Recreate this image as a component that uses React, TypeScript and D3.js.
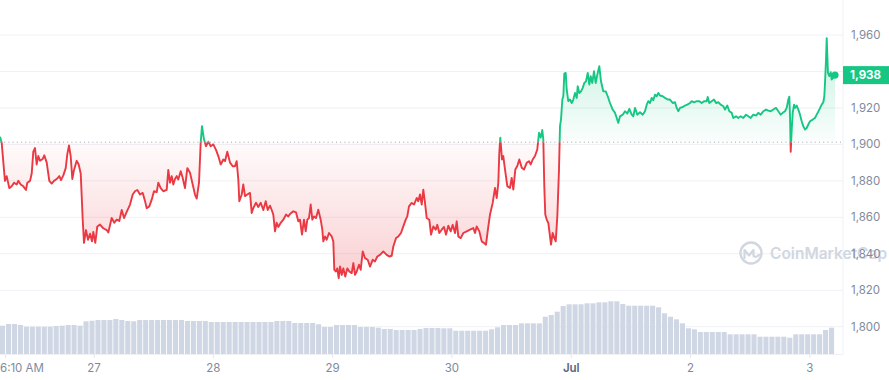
import React from "react";
import * as d3 from "d3";

// ---------- data ----------
const START = new Date(2023, 5, 26, 5, 4); // first sample
const SPAN_HOURS = 168;

// [hours since START, ETH price in USD]
const pricePoints: [number, number][] = [
  [0, 1904.2], [0.34, 1901], [0.8, 1886], [1.0, 1880], [1.35, 1882.6], [1.87, 1876], [2.35, 1877], [2.82, 1879],
  [3.36, 1878], [3.68, 1880], [4.16, 1878], [4.69, 1877], [5.23, 1875], [5.49, 1879], [6.04, 1880], [6.38, 1884],
  [6.7, 1896], [7.04, 1898], [7.38, 1889], [7.71, 1893.6], [8.05, 1891], [8.59, 1892], [8.91, 1894], [9.4, 1890],
  [9.92, 1880], [10.4, 1878.5], [10.86, 1880], [11.41, 1881], [11.93, 1882.6], [12.27, 1880.4], [12.74, 1883],
  [13.22, 1887], [13.54, 1894.5], [13.88, 1899.4], [14.22, 1893.6], [14.55, 1881], [14.89, 1886], [15.43, 1891],
  [15.83, 1889], [16.24, 1884], [16.44, 1871.6], [16.64, 1858.7], [16.9, 1846], [17.3, 1853], [17.71, 1847.7],
  [18.11, 1851], [18.51, 1846.8], [18.77, 1852], [19.17, 1846], [19.58, 1855], [20.12, 1856], [20.78, 1854],
  [21.47, 1853], [21.79, 1851.7], [22.47, 1859.6], [23.0, 1857], [23.48, 1858.7], [24.0, 1858], [24.49, 1864],
  [24.95, 1859.6], [25.49, 1863], [26.16, 1867], [26.7, 1872.5], [27.16, 1874.3], [27.63, 1875], [28.17, 1872.5],
  [28.71, 1873.4], [29.17, 1869], [29.52, 1865], [30.04, 1866], [30.52, 1869.7], [30.98, 1874.3], [31.53, 1873.8],
  [31.85, 1879], [32.33, 1876], [32.86, 1874.3], [33.54, 1875], [33.86, 1886], [34.2, 1879], [34.55, 1882.6],
  [34.87, 1878], [35.21, 1881], [35.55, 1882.6], [35.87, 1880.7], [36.36, 1885.3], [36.76, 1881.6], [37.22, 1876],
  [37.69, 1887], [38.23, 1884.4], [38.77, 1878], [39.23, 1872.5], [39.58, 1870.3], [40.04, 1879], [40.38, 1901],
  [40.64, 1910], [41.04, 1902.8], [41.45, 1899], [41.91, 1901.5], [42.39, 1899], [42.92, 1900], [43.46, 1897],
  [43.92, 1893.6], [44.41, 1889], [44.93, 1891.7], [45.27, 1890.8], [45.73, 1896], [46.28, 1890], [46.82, 1888],
  [47.28, 1888], [47.62, 1890.8], [47.95, 1880.7], [48.15, 1868.8], [48.63, 1872.5], [48.95, 1878], [49.29, 1871.6],
  [49.76, 1872.5], [50.3, 1873.4], [50.64, 1862.4], [50.96, 1865], [51.51, 1868], [51.97, 1865.7], [52.45, 1868],
  [52.98, 1864], [53.46, 1868.8], [53.86, 1864], [54.32, 1866.4], [54.67, 1864], [54.99, 1861.5], [55.33, 1852.3],
  [55.67, 1857], [56.0, 1854.7], [56.48, 1857], [57.0, 1858.7], [57.54, 1861.5], [58.01, 1860.5], [58.35, 1861.8],
  [59.01, 1863.3], [59.56, 1862.7], [60.02, 1857.8], [60.36, 1858.7], [60.76, 1850.5], [61.16, 1858.7],
  [61.51, 1852.3], [61.83, 1858.7], [62.17, 1859.6], [62.51, 1867], [62.84, 1858.7], [63.18, 1860.5], [63.58, 1859.6],
  [64.04, 1864.2], [64.52, 1858.7], [64.85, 1853.2], [65.05, 1846.8], [65.39, 1849.5], [65.73, 1847.7],
  [66.19, 1851.4], [66.74, 1849.5], [67.06, 1846.8], [67.26, 1831.2], [67.6, 1830.3], [67.86, 1832], [68.15, 1826.6],
  [68.41, 1833], [68.75, 1828.4], [69.07, 1832], [69.47, 1827.5], [69.88, 1832], [70.28, 1830.3], [70.76, 1829.4],
  [71.09, 1834.9], [71.43, 1828.4], [71.77, 1830.3], [72.23, 1834], [72.57, 1831.2], [72.98, 1841.3], [73.44, 1837.6],
  [73.98, 1836.7], [74.44, 1833], [74.99, 1836.7], [75.45, 1835.8], [75.91, 1838.5], [76.46, 1839.4], [77.12, 1841.3],
  [77.8, 1839.4], [78.33, 1838.5], [78.81, 1838.9], [79.13, 1844], [79.68, 1848.6], [80.14, 1849.5], [80.68, 1851.4],
  [81.14, 1855], [81.63, 1858.7], [81.95, 1860.5], [82.29, 1866], [82.83, 1867.9], [83.3, 1867], [83.84, 1870.6],
  [84.16, 1868.8], [84.5, 1872.5], [84.85, 1867], [85.17, 1875.2], [85.51, 1867.9], [85.85, 1859.6], [86.38, 1858.7],
  [86.72, 1850.5], [87.18, 1855], [87.66, 1853.2], [87.98, 1855.9], [88.39, 1851.4], [88.87, 1853.2], [89.33, 1854.7],
  [89.74, 1850.5], [90.2, 1855.4], [90.68, 1852.3], [91.08, 1855.9], [91.55, 1851.4], [91.89, 1857.8], [92.21, 1849.5],
  [92.69, 1848.6], [93.22, 1851.4], [93.9, 1852.3], [94.56, 1853.2], [95.23, 1854.1], [95.57, 1851.4], [95.91, 1855],
  [96.44, 1852.3], [96.92, 1846.8], [97.38, 1845.9], [97.78, 1845], [98.25, 1855], [98.59, 1861.5], [99.13, 1867.9],
  [99.59, 1876.1], [99.94, 1870.6], [100.26, 1878.9], [100.46, 1895.4], [100.66, 1903.7], [101.0, 1891.7],
  [101.26, 1893.6], [101.61, 1886.2], [102.07, 1877.1], [102.61, 1876.1], [102.95, 1881.6], [103.28, 1875.2],
  [103.68, 1886.2], [104.08, 1888.1], [104.48, 1891.7], [104.97, 1887.2], [105.43, 1886.2], [105.97, 1889.9],
  [106.43, 1890.8], [106.78, 1889], [107.18, 1891.7], [107.64, 1893.6], [108.1, 1897.2], [108.45, 1906.4],
  [108.79, 1903.7], [109.11, 1907.9], [109.31, 1902.8], [109.51, 1877.1], [109.71, 1861.5], [110.0, 1858.7],
  [110.32, 1856.9], [110.66, 1849.5], [110.86, 1845], [111.2, 1851.4], [111.53, 1848.6], [111.81, 1846.8],
  [112.13, 1860.5], [112.47, 1886.2], [112.67, 1910], [112.87, 1913.6], [113.14, 1924.6], [113.34, 1926.4],
  [113.54, 1938.8], [113.82, 1939.2], [114.02, 1930], [114.34, 1923.7], [114.68, 1924.6], [115.03, 1922.7],
  [115.35, 1924.6], [115.69, 1928.2], [116.04, 1925.5], [116.23, 1931.9], [116.56, 1928.2], [116.9, 1929.1],
  [117.24, 1931], [117.56, 1933.7], [117.9, 1934.6], [118.25, 1939.2], [118.57, 1932.8], [118.85, 1937.4],
  [119.17, 1933.7], [119.51, 1940.1], [119.85, 1933.7], [120.18, 1938.3], [120.58, 1942.9], [120.92, 1934.6],
  [121.38, 1929.1], [121.87, 1929.1], [122.27, 1926.4], [122.73, 1922.7], [123.27, 1919.1], [123.74, 1917.3],
  [124.08, 1914.5], [124.4, 1911.8], [124.74, 1915.4], [125.29, 1916.3], [125.75, 1918.2], [126.21, 1916.9],
  [126.62, 1919.5], [127.1, 1916.3], [127.42, 1915.4], [127.76, 1920], [128.22, 1916.3], [128.77, 1917.6],
  [129.31, 1916.3], [129.77, 1918.2], [130.12, 1921.8], [130.44, 1923.7], [130.78, 1922.7], [131.12, 1925.5],
  [131.44, 1924.2], [131.79, 1927.3], [132.13, 1926.4], [132.45, 1928.2], [132.79, 1926.8], [133.34, 1926.4],
  [133.8, 1925.5], [134.34, 1924.6], [134.8, 1924.6], [135.35, 1922.7], [135.81, 1923.1], [136.15, 1920],
  [136.47, 1918.2], [136.82, 1920], [137.36, 1920.5], [137.82, 1921.3], [138.28, 1921.8], [138.83, 1922.7],
  [139.17, 1923.7], [139.63, 1923.1], [140.18, 1923.7], [140.7, 1923.7], [141.18, 1922.7], [141.64, 1923.7],
  [142.19, 1923.7], [142.39, 1926], [142.71, 1922.7], [143.19, 1923.7], [143.66, 1924.6], [144.06, 1922.7],
  [144.52, 1923.1], [145.0, 1921.8], [145.53, 1920.9], [145.87, 1919.1], [146.33, 1921.3], [146.74, 1918.2],
  [147.22, 1917.3], [147.54, 1914.5], [148.09, 1915.4], [148.55, 1914.5], [149.03, 1915.4], [149.55, 1914.5],
  [150.1, 1916.3], [150.56, 1915.4], [151.04, 1914.5], [151.56, 1916.3], [152.11, 1915.8], [152.57, 1917.3],
  [153.05, 1916.3], [153.58, 1918.2], [154.12, 1919.1], [154.58, 1918.5], [155.07, 1918.2], [155.59, 1919.1],
  [156.13, 1920], [156.6, 1918.2], [157.08, 1916.3], [157.48, 1917.3], [157.94, 1918.2], [158.28, 1920],
  [158.61, 1924.6], [158.81, 1926.2], [158.95, 1915.4], [159.09, 1896], [159.29, 1908], [159.49, 1917.3],
  [159.75, 1921.8], [159.95, 1920], [160.3, 1921.3], [160.62, 1919.1], [160.96, 1916.3], [161.3, 1912.7],
  [161.62, 1910], [161.97, 1908.1], [162.31, 1909], [162.63, 1910.9], [162.97, 1912.7], [163.51, 1913.6],
  [163.97, 1914.5], [164.32, 1916.3], [164.84, 1919.1], [165.32, 1921.8], [165.65, 1923.1], [165.85, 1926.4],
  [165.99, 1933.7], [166.19, 1946.5], [166.33, 1958.2], [166.59, 1939.2], [166.86, 1937.4], [167.14, 1939.6],
  [167.34, 1935.5], [167.54, 1936.5], [168.0, 1938],
];

// volume bars, one per 1.2 h, in billions USD
const VOLUME_STEP_HOURS = 1.2;
const volumeBillions: number[] = [
  2.83, 3.0, 3.0, 2.9, 2.73, 2.73, 2.73, 2.73, 2.73, 2.8, 2.83, 2.9, 2.9, 2.83, 3.27, 3.33, 3.4, 3.4, 3.4, 3.5,
  3.4, 3.3, 3.27, 3.4, 3.4, 3.4, 3.4, 3.4, 3.4, 3.4, 3.4, 3.3, 3.3, 3.3, 3.3, 3.2, 3.2, 3.2, 3.2, 3.2,
  3.2, 3.2, 3.2, 3.2, 3.2, 3.2, 3.3, 3.3, 3.3, 3.1, 3.1, 3.1, 3.1, 2.97, 2.7, 2.7, 2.9, 2.9, 2.9, 2.9,
  2.7, 2.7, 2.7, 2.63, 2.5, 2.5, 2.4, 2.4, 2.4, 2.4, 2.5, 2.6, 2.6, 2.6, 2.57, 2.57, 2.33, 2.33, 2.33, 2.33,
  2.33, 2.33, 2.47, 2.67, 2.9, 2.9, 2.9, 3.07, 3.07, 3.07, 3.07, 3.73, 3.9, 4.23, 4.8, 4.97, 4.97, 4.97, 5.07, 5.07,
  5.17, 5.17, 5.27, 5.27, 5.0, 4.83, 4.83, 4.83, 4.83, 4.83, 4.67, 4.07, 3.73, 3.47, 3.07, 2.57, 2.47, 2.2, 2.2, 2.2,
  2.2, 2.2, 1.97, 1.97, 1.97, 1.97, 1.97, 1.73, 1.73, 1.73, 1.73, 1.73, 1.63, 1.97, 1.97, 1.97, 1.97, 1.97, 2.4, 2.63,
];

const yTicks = [1800, 1820, 1840, 1860, 1880, 1900, 1920, 1940, 1960];
const yTickLabels = ["1,800", "1,820", "1,840", "1,860", "1,880", "1,900", "1,920", "", "1,960"];
const xTickTimes = [
  new Date(2023, 5, 26, 6, 10),
  new Date(2023, 5, 27),
  new Date(2023, 5, 28),
  new Date(2023, 5, 29),
  new Date(2023, 5, 30),
  new Date(2023, 6, 1),
  new Date(2023, 6, 2),
  new Date(2023, 6, 3),
];
const xTickLabels = ["6:10 AM", "27", "28", "29", "30", "Jul", "2", "3"];
const monthTick = [false, false, false, false, false, true, false, false];

const baselinePrice = 1901.2;
const lastPriceLabel = "1,938";

// ---------- styling ----------
const W = 889;
const H = 380;
const GREEN = "#16c784";
const RED = "#ea3943";
const GRID = "#eff1f4";
const AXIS_TEXT = "#808a9d";
const FONT = "Inter, 'Open Sans', sans-serif";

export default function App() {
  const plotRight = 843;
  const dataRight = 835;
  const axisY = 354.5;

  const x = d3
    .scaleTime()
    .domain([START, new Date(START.getTime() + SPAN_HOURS * 3600e3)])
    .range([0, dataRight]);
  const y = d3.scaleLinear().domain([1800, 1960]).range([326.7, 35]);
  const vy = d3.scaleLinear().domain([0, 6]).range([354, 294]);

  const tOf = (h: number) => new Date(START.getTime() + h * 3600e3);
  const yBase = y(baselinePrice);

  const line = d3
    .line<[number, number]>()
    .x((d) => x(tOf(d[0])))
    .y((d) => y(d[1]))
    .curve(d3.curveLinear);
  const area = d3
    .area<[number, number]>()
    .x((d) => x(tOf(d[0])))
    .y0(yBase)
    .y1((d) => y(d[1]));

  const linePath = line(pricePoints) || "";
  const areaPath = area(pricePoints) || "";
  const last = pricePoints[pricePoints.length - 1];

  const barW = x(tOf(VOLUME_STEP_HOURS)) - x(tOf(0));

  return (
    <div style={{ position: "absolute", left: 0, top: 0 }}>
      <svg width={W} height={H} style={{ display: "block", fontFamily: FONT }}>
        <defs>
          <clipPath id="clipAbove">
            <rect x={0} y={0} width={plotRight} height={yBase} />
          </clipPath>
          <clipPath id="clipBelow">
            <rect x={0} y={yBase} width={plotRight} height={axisY - yBase} />
          </clipPath>
          <linearGradient id="gradGreen" gradientUnits="userSpaceOnUse" x1={0} x2={0} y1={y(1945)} y2={yBase}>
            <stop offset="0%" stopColor={GREEN} stopOpacity={0.2} />
            <stop offset="100%" stopColor={GREEN} stopOpacity={0.02} />
          </linearGradient>
          <linearGradient id="gradRed" gradientUnits="userSpaceOnUse" x1={0} x2={0} y1={yBase} y2={y(1826)}>
            <stop offset="0%" stopColor={RED} stopOpacity={0.02} />
            <stop offset="100%" stopColor={RED} stopOpacity={0.24} />
          </linearGradient>
        </defs>

        {/* grid */}
        {yTicks.map((t) => (
          <line key={"g" + t} x1={0} x2={plotRight} y1={y(t)} y2={y(t)} stroke={GRID} strokeWidth={1} />
        ))}
        <line x1={plotRight} x2={plotRight} y1={0} y2={axisY} stroke={GRID} strokeWidth={1} />
        <line x1={0} x2={plotRight} y1={axisY} y2={axisY} stroke={GRID} strokeWidth={1} />

        {/* volume bars */}
        {volumeBillions.map((v, i) => {
          const x0 = x(tOf(i * VOLUME_STEP_HOURS));
          return (
            <rect
              key={"v" + i}
              x={x0}
              y={vy(v)}
              width={Math.max(0, barW - 0.9)}
              height={vy(0) - vy(v)}
              fill="#cfd6e4"
            />
          );
        })}

        {/* watermark */}
        <g opacity={0.9}>
          <circle cx={751} cy={253} r={10.5} fill="none" stroke="#cdd3dd" strokeWidth={2.4} />
          <path
            d="M744.5,258 L744.5,250 L749,255.5 L753.5,250 L753.5,256 Q756,258 759,255"
            fill="none"
            stroke="#cdd3dd"
            strokeWidth={2.2}
            strokeLinejoin="round"
            strokeLinecap="round"
          />
          <text x={770} y={259} fontSize={15.5} fontWeight={600} fill="#cdd3dd">
            CoinMarketCap
          </text>
        </g>

        {/* areas */}
        <path d={areaPath} fill="url(#gradGreen)" clipPath="url(#clipAbove)" />
        <path d={areaPath} fill="url(#gradRed)" clipPath="url(#clipBelow)" />

        {/* baseline */}
        <line
          x1={0}
          x2={plotRight}
          y1={yBase}
          y2={yBase}
          stroke="#a1a7b3"
          strokeWidth={1}
          strokeDasharray="1 3.2"
        />

        {/* price line */}
        <path d={linePath} fill="none" stroke={GREEN} strokeWidth={1.9} strokeLinejoin="round" clipPath="url(#clipAbove)" />
        <path d={linePath} fill="none" stroke={RED} strokeWidth={1.9} strokeLinejoin="round" clipPath="url(#clipBelow)" />
        <circle cx={x(tOf(last[0]))} cy={y(last[1])} r={3.6} fill={GREEN} />

        {/* y labels */}
        {yTicks.map((t, i) =>
          yTickLabels[i] ? (
            <text key={"yl" + t} x={851} y={y(t)} dy="0.35em" fontSize={11.5} fill={AXIS_TEXT}>
              {yTickLabels[i]}
            </text>
          ) : null
        )}

        {/* last price badge */}
        <rect x={plotRight} y={y(last[1]) - 9} width={W - plotRight} height={18} fill={GREEN} />
        <text x={850} y={y(last[1])} dy="0.36em" fontSize={11.5} fontWeight={700} fill="#ffffff">
          {lastPriceLabel}
        </text>

        {/* x ticks */}
        {xTickTimes.map((t, i) => {
          const xp = x(t);
          const first = i === 0;
          return (
            <g key={"xt" + i}>
              <line x1={xp} x2={xp} y1={axisY} y2={axisY + 3.5} stroke="#e3e6ec" strokeWidth={1} />
              <text
                x={first ? 0 : xp}
                y={372}
                fontSize={11.5}
                textAnchor={first ? "start" : "middle"}
                fill={monthTick[i] ? "#58667e" : AXIS_TEXT}
                fontWeight={monthTick[i] ? 600 : 400}
              >
                {xTickLabels[i]}
              </text>
            </g>
          );
        })}
      </svg>
    </div>
  );
}
